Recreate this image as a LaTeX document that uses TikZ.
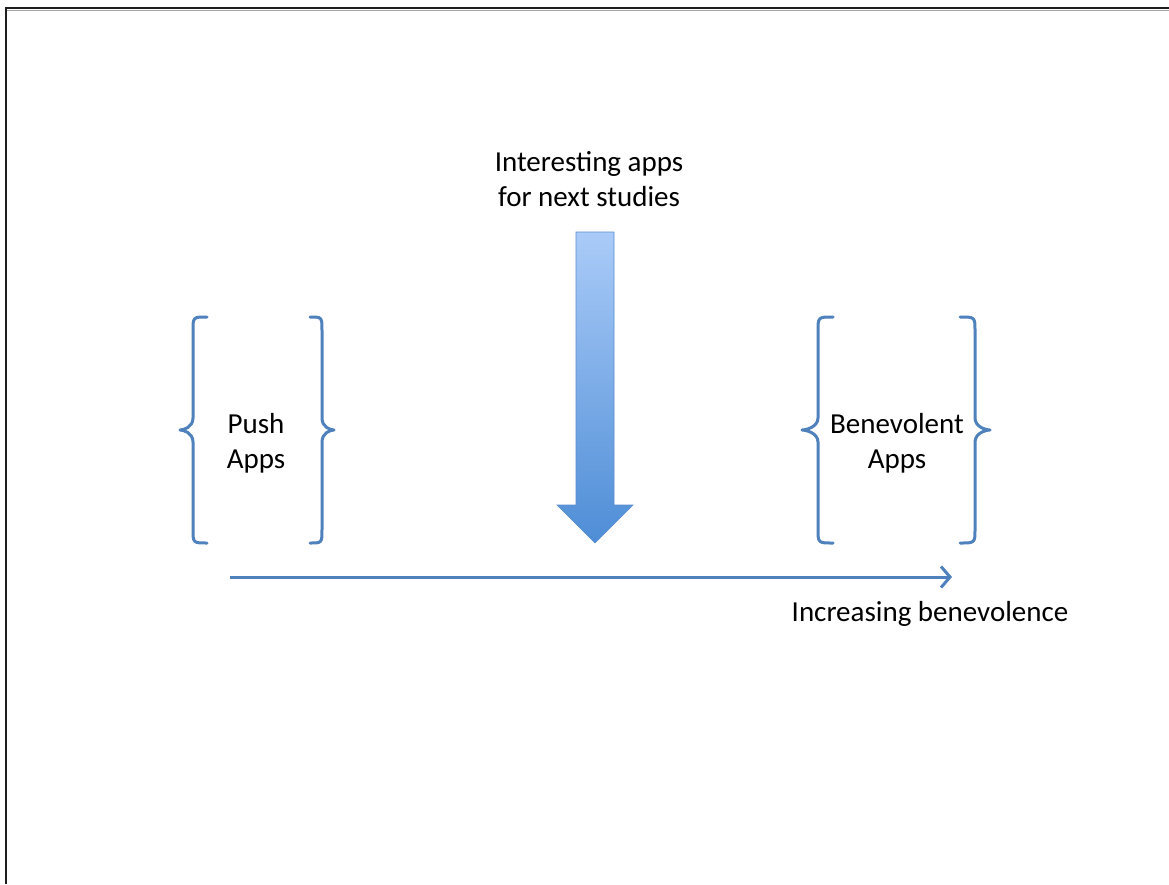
\documentclass[tikz,border=0pt]{standalone}
\usepackage{fontspec}
\setmainfont{Carlito}
\usetikzlibrary{arrows.meta}
\definecolor{accent}{HTML}{4F81BD}
\definecolor{arrtop}{HTML}{AACBF8}
\definecolor{arrbot}{HTML}{4E8DD6}
\definecolor{arredge}{HTML}{5A8DCC}
\begin{document}
\begin{tikzpicture}[x=1pt,y=-1pt,
  lbl/.style={font=\fontsize{29}{35.4}\selectfont, align=center, inner sep=0pt, text=black},
  bracepath/.style={draw=accent, line width=3pt, line cap=round, line join=round},
  flowline/.style={draw=accent, line width=3pt, -{Straight Barb[length=9pt,width=21pt]}}]
\useasboundingbox (0,0) rectangle (1169,884);
\fill[white] (0,0) rectangle (1169,884);
% frame
\draw[black!35, line width=1pt] (1169,10) -- (7,10);
\draw[black!88, line width=1.6pt] (1169,8) -- (6,8) -- (6,884);
% texts
\node[lbl] (top) at (589,179) {Interesting apps\\for next studies};
\node[lbl] (push) at (256,443) {Push\\Apps};
\node[lbl] (bene) at (897,443) {Benevolent\\Apps};
\node[lbl, anchor=base] (incr) at (930,621) {Increasing benevolence};
% left group braces
\draw[bracepath] (207,317) .. controls (193,317) .. (193,331) -- (193,418)
  .. controls (193,427) and (184,430) .. (180,430)
  .. controls (184,430) and (193,433) .. (193,442) -- (193,529)
  .. controls (193,543) .. (207,543);
\draw[bracepath] (310,317) .. controls (322,317) .. (322,331) -- (322,418)
  .. controls (322,427) and (330,430) .. (334,430)
  .. controls (330,430) and (322,433) .. (322,442) -- (322,529)
  .. controls (322,543) .. (310,543);
% right group braces
\draw[bracepath] (833,317) .. controls (818,317) .. (818,331) -- (818,418)
  .. controls (818,427) and (806,430) .. (802,430)
  .. controls (806,430) and (818,433) .. (818,442) -- (818,529)
  .. controls (818,543) .. (833,543);
\draw[bracepath] (960,317) .. controls (975,317) .. (975,331) -- (975,418)
  .. controls (975,427) and (986,430) .. (990,430)
  .. controls (986,430) and (975,433) .. (975,442) -- (975,529)
  .. controls (975,543) .. (960,543);
% big downward arrow
\shade[top color=arrtop, bottom color=arrbot, draw=arredge, line width=0.6pt]
  (576,232) -- (614,232) -- (614,505) -- (633,505) -- (595,543) -- (557,505) -- (576,505) -- cycle;
% horizontal arrow
\coordinate (hs) at (230,577);
\coordinate (he) at (952,577);
\draw[flowline] (hs) -- (he);
\end{tikzpicture}
\end{document}
